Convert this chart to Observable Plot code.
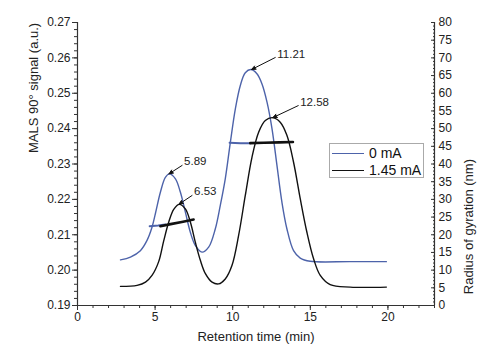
<!DOCTYPE html>
<html><head><meta charset="utf-8">
<script src="https://cdn.jsdelivr.net/npm/d3@7"></script>
<script src="https://cdn.jsdelivr.net/npm/@observablehq/plot@0.6"></script>
<style>
body{margin:0;background:#fff;}
#wrap{position:relative;width:484px;height:352px;font-family:"Liberation Sans",Arial,sans-serif;}
#legend{position:absolute;left:329px;top:143px;width:95px;height:35px;border:1px solid #aaa;background:#fff;font-size:14px;color:#111;box-sizing:border-box;}
.row{position:absolute;left:2px;height:17px;line-height:17px;white-space:nowrap;}
.sw{display:inline-block;width:32px;height:0;border-top:1.5px solid;vertical-align:middle;margin-right:5px;position:relative;top:-1px;}
</style></head>
<body><div id="wrap"></div>
<script>
// ---- data ----
const seriesNames = ["0 mA", "1.45 mA"];
const seriesColors = ["#4d63aa", "#111111"];

// MALS 90° signal, 0 mA
const blueX = [2.77,3.41,4.05,4.48,4.8,5.02,5.34,5.66,5.92,6.31,6.63,6.95,7.27,7.59,8.02,8.45,8.88,9.2,9.52,9.85,10.17,10.49,10.81,11.18,11.56,11.88,12.21,12.53,12.85,13.17,13.49,13.92,14.35,14.99,17.57,19.9];
const blueY = [0.2029,0.2037,0.2055,0.2084,0.2121,0.2160,0.2220,0.2262,0.2272,0.2258,0.2220,0.2164,0.2107,0.2070,0.2051,0.2065,0.2117,0.2183,0.2258,0.2362,0.2456,0.2522,0.2558,0.2567,0.2555,0.2527,0.2475,0.2400,0.2296,0.2192,0.2117,0.2055,0.2034,0.2025,0.2024,0.2024];

// MALS 90° signal, 1.45 mA
const blackX = [2.77,3.84,4.38,4.8,5.23,5.55,5.88,6.2,6.56,6.95,7.27,7.59,7.92,8.24,8.67,9.09,9.52,9.95,10.38,10.81,11.24,11.67,12.1,12.58,13.06,13.49,13.92,14.35,14.78,15.21,15.64,16.28,17.57,19.9];
const blackY = [0.1954,0.1957,0.1966,0.1985,0.2024,0.2082,0.2136,0.2172,0.2186,0.2173,0.2136,0.2079,0.2027,0.1990,0.1966,0.1961,0.1975,0.2013,0.2098,0.2211,0.2319,0.2390,0.2423,0.2431,0.2418,0.2381,0.2305,0.2202,0.2107,0.2032,0.1985,0.1959,0.1952,0.1952];

// Radius of gyration (nm)
const rgBlueSeg = [0,0,0, 1,1,1];
const rgBlueX   = [4.65,5.2,5.66, 9.8,10.5,11.13];
const rgBlueR   = [22.4,22.6,22.9, 46.0,45.9,45.9];
const rgBlackSeg = [0,0,0,0, 1,1,1,1];
const rgBlackX   = [5.34,6.0,6.8,7.48, 11.13,12.0,13.0,13.88];
const rgBlackR   = [22.4,23.0,23.7,24.3, 45.9,46.0,46.1,46.2];

// peak annotations
const peakLabels = ["5.89","6.53","11.21","12.58"];
const peakX = [5.89,6.53,11.21,12.58];
const peakY = [0.2272,0.2186,0.2567,0.2431];
const labelX = [6.74,7.38,12.74,14.22];
const labelY = [0.2296,0.2211,0.2601,0.2465];

// axes ticks
const xTicks = [0,5,10,15,20];
const yTicks = [0.19,0.20,0.21,0.22,0.23,0.24,0.25,0.26,0.27];
const rgTicks = [0,5,10,15,20,25,30,35,40,45,50,55,60,65,70,75,80];

// ---- build ----
const rgToY = r => 0.19 + r * 0.001;
const yToRg = v => Math.round((v - 0.19) * 1000);
const blue = blueX.map((x,i)=>({x, y: blueY[i]}));
const black = blackX.map((x,i)=>({x, y: blackY[i]}));
const rgBlue = rgBlueX.map((x,i)=>({x, y: rgToY(rgBlueR[i]), s: rgBlueSeg[i]}));
const rgBlack = rgBlackX.map((x,i)=>({x, y: rgToY(rgBlackR[i]), s: rgBlackSeg[i]}));
const ann = peakLabels.map((t,i)=>({t, px: peakX[i], py: peakY[i], lx: labelX[i], ly: labelY[i]}));

const xMinor = d3.range(0, 24, 1);
const yMinor = d3.range(0, 41).map(i => 0.19 + i*0.002);
const rgMinor = d3.range(0, 81).map(rgToY);
const axisColor = "#333";

const plot = Plot.plot({
  width: 484, height: 352,
  marginLeft: 77, marginRight: 50, marginTop: 22, marginBottom: 47,
  x: {domain: [0, 23]},
  y: {domain: [0.19, 0.27]},
  style: {fontFamily: "'Liberation Sans', Arial, sans-serif", fontSize: "12px", color: "#222", background: "#fff"},
  marks: [
    Plot.ruleX([0], {stroke: axisColor, strokeWidth: 1.2}),
    Plot.ruleX([23], {stroke: axisColor, strokeWidth: 1.2}),
    Plot.ruleY([0.19], {stroke: axisColor, strokeWidth: 1.2}),
    Plot.axisX(xMinor, {tickSize: 3, tickFormat: () => "", label: null, stroke: axisColor}),
    Plot.axisX(xTicks, {tickSize: 5, tickPadding: 2, label: null, stroke: axisColor}),
    Plot.axisY(yMinor, {tickSize: 3, tickFormat: () => "", label: null, stroke: axisColor}),
    Plot.axisY(yTicks, {tickSize: 5, tickPadding: 2, tickFormat: d3.format(".2f"), label: null, stroke: axisColor}),
    Plot.axisY(rgMinor, {anchor: "right", tickSize: -2, tickPadding: 6, tickFormat: () => "", label: null, stroke: axisColor}),
    Plot.axisY(rgTicks.map(rgToY), {anchor: "right", tickSize: -4, tickPadding: 8, tickFormat: yToRg, label: null, stroke: axisColor}),
    Plot.line(blue, {x: "x", y: "y", stroke: seriesColors[0], strokeWidth: 1.4, curve: "catmull-rom"}),
    Plot.line(black, {x: "x", y: "y", stroke: seriesColors[1], strokeWidth: 1.4, curve: "catmull-rom"}),
    Plot.line(rgBlue, {x: "x", y: "y", z: "s", stroke: seriesColors[0], strokeWidth: 2}),
    Plot.line(rgBlack, {x: "x", y: "y", z: "s", stroke: seriesColors[1], strokeWidth: 2.6}),
    Plot.arrow(ann, {x1: "lx", y1: "ly", x2: "px", y2: "py", stroke: "#111", fill: "#111", strokeWidth: 1, headLength: 7, headAngle: 45}),
    Plot.text(ann, {x: "lx", y: "ly", text: "t", textAnchor: "start", lineAnchor: "bottom", dx: 2, dy: 0, fontSize: 11.5, fill: "#222"}),
    Plot.text(["MALS 90° signal (a.u.)"], {text: d => d, frameAnchor: "left", rotate: -90, dx: -44, dy: -11, fontSize: 13, fill: "#222"}),
    Plot.text(["Radius of gyration (nm)"], {text: d => d, frameAnchor: "right", rotate: -90, dx: 34, dy: -5, fontSize: 13, fill: "#222"}),
    Plot.text(["Retention time (min)"], {text: d => d, frameAnchor: "bottom", dy: 35, fontSize: 13, fill: "#222"})
  ]
});
const wrap = document.getElementById("wrap");
wrap.appendChild(plot);
const legend = document.createElement("div");
legend.id = "legend";
seriesNames.forEach((n, i) => {
  const row = document.createElement("div");
  row.className = "row";
  row.style.top = (1 + i*17) + "px";
  row.innerHTML = `<span class="sw" style="border-color:${seriesColors[i]}"></span>${n}`;
  legend.appendChild(row);
});
wrap.appendChild(legend);
</script></body></html>
